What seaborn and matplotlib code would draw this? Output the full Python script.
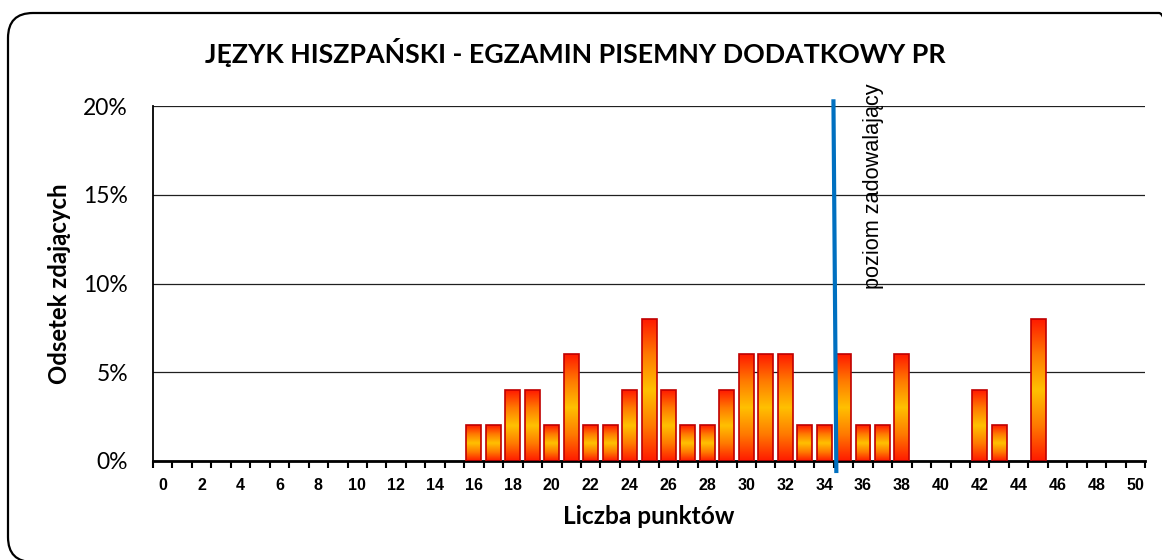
import numpy as np
import pandas as pd
import matplotlib
matplotlib.use("Agg")
import matplotlib.pyplot as plt
import seaborn as sns
from matplotlib.colors import LinearSegmentedColormap
from matplotlib.patches import FancyBboxPatch
from matplotlib.ticker import FixedLocator, PercentFormatter

# -------------------------------------------------
# Data
# -------------------------------------------------
points = list(range(0, 51))
bar_points = [16, 17, 18, 19, 20, 21, 22, 23, 24, 25, 26, 27, 28, 29, 30,
              31, 32, 33, 34, 35, 36, 37, 38, 42, 43, 45]
bar_pct = [2, 2, 4, 4, 2, 6, 2, 2, 4, 8, 4, 2, 2, 4, 6,
           6, 6, 2, 2, 6, 2, 2, 6, 4, 2, 8]
# "poziom zadowalający" line, drawn slightly slanted like the original
line_x = [34.48, 34.63]
line_y = [0.2038, -0.0068]

title = "JĘZYK HISZPAŃSKI - EGZAMIN PISEMNY DODATKOWY PR"
xlabel = "Liczba punktów"
ylabel = "Odsetek zdających"
threshold_label = "poziom zadowalający"

share = dict(zip(bar_points, bar_pct))
df = pd.DataFrame({
    "punkty": [str(p) for p in points],
    "odsetek": [share.get(p, 0) / 100 for p in points],
})

# -------------------------------------------------
# Style
# -------------------------------------------------
sns.set_theme(style="white")
plt.rcParams["font.family"] = ["Lato", "DejaVu Sans"]
plt.rcParams.update({
    "text.color": "black",
    "axes.labelcolor": "black",
    "xtick.color": "black",
    "ytick.color": "black",
})

fig = plt.figure(figsize=(11.62, 5.6), dpi=100)
ax = fig.add_axes([0.1317, 0.1768, 0.8537, 0.6339])

sns.barplot(data=df, x="punkty", y="odsetek", color="#ff4000",
            width=0.77, edgecolor="#c00000", linewidth=1.2, ax=ax)

# vertical gradient fill: red - orange - yellow - orange - red
grad_cmap = LinearSegmentedColormap.from_list(
    "fire", ["#ff1a00", "#ff7a00", "#ffc000", "#ff7a00", "#ff1a00"])
grad = np.linspace(0, 1, 256).reshape(-1, 1)
for bar in ax.patches:
    h = bar.get_height()
    if h <= 0:
        bar.set_visible(False)
        continue
    x0 = bar.get_x()
    w = bar.get_width()
    im = ax.imshow(grad, cmap=grad_cmap, aspect="auto",
                   extent=[x0, x0 + w, 0, h], origin="lower", zorder=2)
    im.set_clip_path(bar)
    bar.set_facecolor("none")
    bar.set_zorder(3)

ax.set_xlim(-0.5, 50.5)
ax.set_ylim(0, 0.20)

# y axis
ax.set_yticks([0, 0.05, 0.10, 0.15, 0.20])
ax.yaxis.set_major_formatter(PercentFormatter(1.0, decimals=0))
ax.grid(axis="y", color="#202020", linewidth=0.9)
ax.set_axisbelow(True)
ax.tick_params(axis="y", which="major", direction="out", length=7,
               width=1.2, color="black", labelsize=16.5, pad=11)

# x axis: marks between categories, labels at even points
ax.xaxis.set_major_locator(FixedLocator(points[::2]))
ax.set_xticklabels([str(p) for p in points[::2]],
                   fontsize=11.5, fontweight="bold",
                   family=["Liberation Sans Narrow", "Liberation Sans"])
ax.xaxis.set_minor_locator(FixedLocator(np.arange(-0.5, 51, 1)))
ax.tick_params(axis="x", which="major", length=0, pad=12)
ax.tick_params(axis="x", which="minor", direction="out", length=5,
               width=1.5, color="black", bottom=True)

for side in ["top", "right"]:
    ax.spines[side].set_visible(False)
ax.spines["left"].set_color("black")
ax.spines["left"].set_linewidth(1.3)
ax.spines["bottom"].set_color("black")
ax.spines["bottom"].set_linewidth(2)

ax.set_xlabel("")
ax.set_ylabel("")

# threshold line and its label
ax.plot(line_x, line_y, color="#0070c0", linewidth=3, clip_on=False,
        zorder=5, solid_capstyle="butt")
ax.text(36.52, 0.213, threshold_label, rotation=90, ha="center", va="top",
        fontsize=15.6, family=["Liberation Sans", "DejaVu Sans"],
        clip_on=False)

# texts
fig.text(0.495, 0.8875, title, ha="center", va="baseline",
         fontsize=19.3, fontweight="bold")
fig.text(0.558, 0.0643, xlabel, ha="center", va="baseline",
         fontsize=17.6, fontweight="bold")
fig.text(0.0515, 0.494, ylabel, ha="center", va="center", rotation=90,
         fontsize=17.2, fontweight="bold")

# rounded frame around the chart (runs off the right and bottom edge),
# laid out in inches so the corners stay circular
frame = FancyBboxPatch((0.08, -0.02), 11.76, 5.49,
                       boxstyle="round,pad=0,rounding_size=0.25",
                       transform=fig.dpi_scale_trans, facecolor="none",
                       edgecolor="black", linewidth=1.6)
fig.patches.append(frame)

fig.savefig("out.png", dpi=100)
